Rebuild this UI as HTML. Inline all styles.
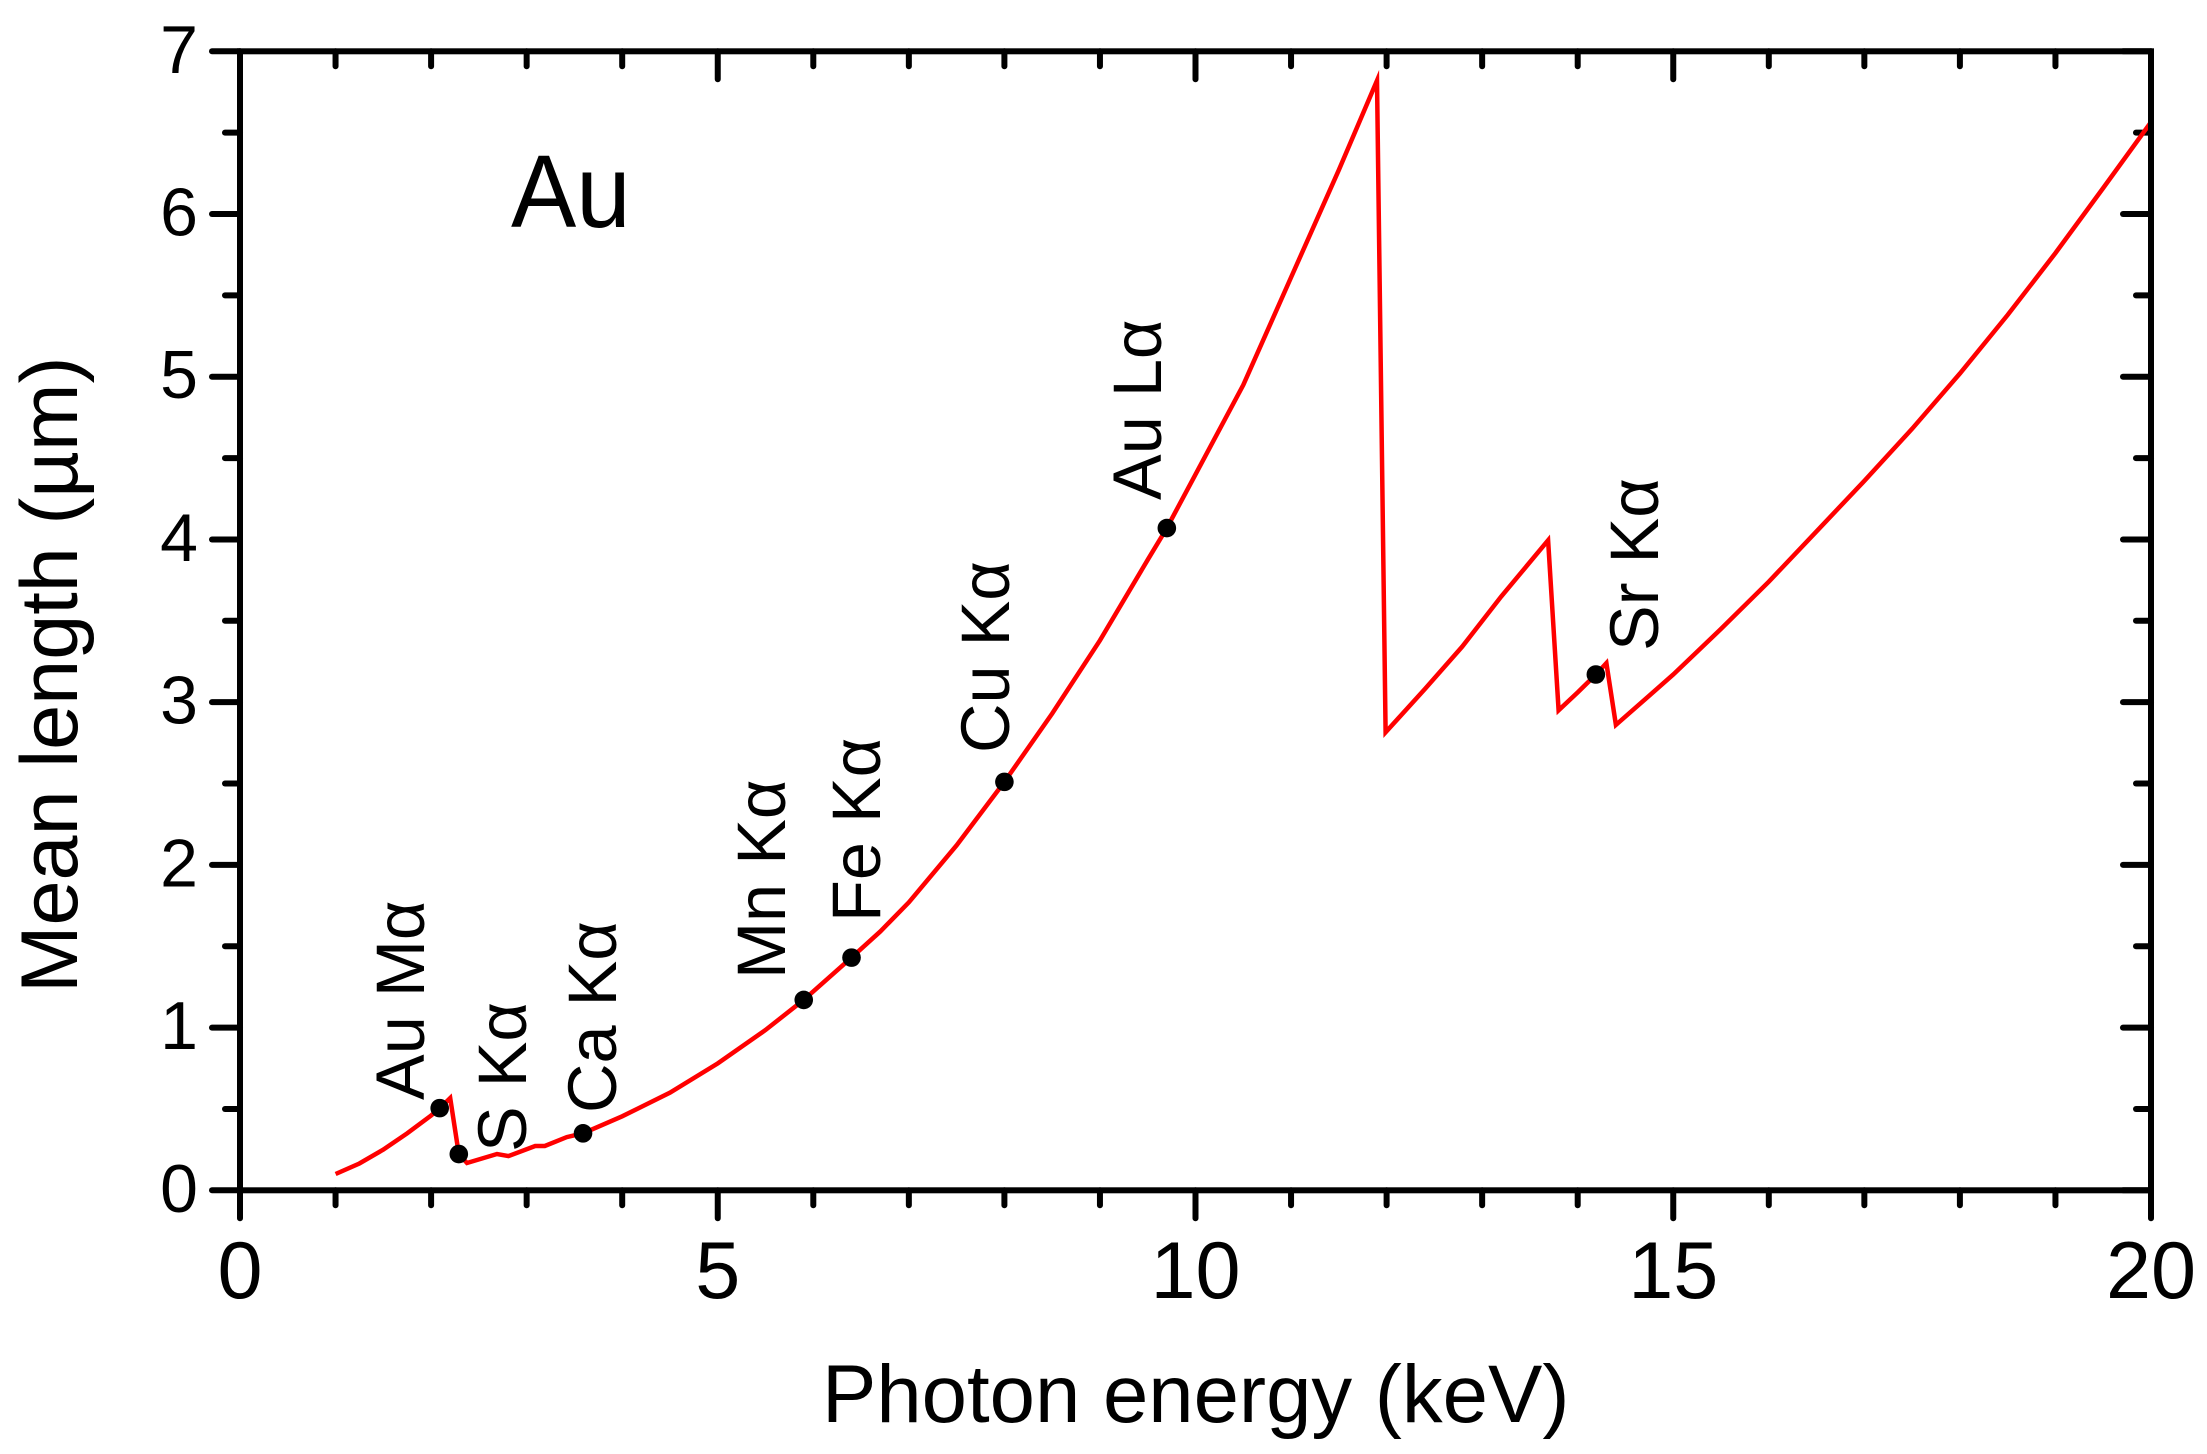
<!DOCTYPE html>
<html lang="en">
<head>
<meta charset="utf-8">
<title>Mean length vs photon energy for Au</title>
<style>
html,body{margin:0;padding:0;background:#fff;}
svg{display:block;font-family:"Liberation Sans",sans-serif;fill:#000;}
</style>
</head>
<body>
<svg id="chart" xmlns="http://www.w3.org/2000/svg" width="2207" height="1454" viewBox="0 0 2207 1454">
  <g id="ticks"></g>
  <g id="tick-labels"></g>
  <polyline id="curve" fill="none" stroke="#ff0000" stroke-width="4.5" stroke-linejoin="miter" stroke-miterlimit="10"></polyline>
  <g id="markers"></g>
  <rect id="frame" fill="none" stroke="#000" stroke-width="6"></rect>
  <text font-size="81" transform="translate(77 993) rotate(-90)">Mean length (µm)</text>
  <text font-size="81.5" x="822" y="1422">Photon energy (keV)</text>
  <text font-size="103" transform="translate(511 227) scale(0.95 1)">Au</text>
  <g font-size="68.5">
    <text transform="translate(424 1100) rotate(-90)">Au Mα</text>
    <text transform="translate(526 1152) rotate(-90)">S Kα</text>
    <text transform="translate(616 1113) rotate(-90)">Ca Kα</text>
    <text transform="translate(785 979) rotate(-90)">Mn Kα</text>
    <text transform="translate(880 922) rotate(-90)">Fe Kα</text>
    <text transform="translate(1009 753) rotate(-90)">Cu Kα</text>
    <text transform="translate(1161 500) rotate(-90)">Au Lα</text>
    <text transform="translate(1658 651) rotate(-90)">Sr Kα</text>
  </g>
</svg>
<script>
const energies = [1.0,1.25,1.5,1.75,2.0,2.1,2.2,2.29,2.376,2.69,2.81,3.09,3.19,3.42,3.59,4.0,4.5,5.0,5.5,5.9,6.4,6.7,7.0,7.5,8.0,8.5,9.0,9.5,9.7,10.0,10.5,11.0,11.5,11.9,11.99,12.4,12.79,13.2,13.69,13.8,14.0,14.19,14.3,14.4,15.0,15.5,16.0,16.5,17.0,17.5,18.0,18.5,19.0,19.5,20.0];
const lengths = [0.10,0.165,0.25,0.35,0.46,0.51,0.567,0.223,0.168,0.223,0.21,0.272,0.272,0.327,0.35,0.455,0.60,0.78,0.985,1.17,1.43,1.59,1.77,2.12,2.51,2.93,3.38,3.875,4.07,4.40,4.95,5.61,6.27,6.82,2.815,3.08,3.34,3.65,3.995,2.95,3.06,3.17,3.24,2.86,3.17,3.45,3.74,4.05,4.36,4.68,5.02,5.38,5.76,6.16,6.565];
const markerNames = ["au-m-alpha","s-k-alpha","ca-k-alpha","mn-k-alpha","fe-k-alpha","cu-k-alpha","au-l-alpha","sr-k-alpha"];
const markerEnergies = [2.09,2.29,3.59,5.9,6.4,8.0,9.7,14.19];
const markerLengths = [0.505,0.223,0.35,1.17,1.43,2.51,4.07,3.17];
const xMajorTicks = [0,5,10,15,20];
const xMinorTicks = [1,2,3,4,6,7,8,9,11,12,13,14,16,17,18,19];
const yMajorTicks = [0,1,2,3,4,5,6,7];
const yMinorTicks = [0.5,1.5,2.5,3.5,4.5,5.5,6.5];

const NS = "http://www.w3.org/2000/svg";
const plotLeft = 240, plotRight = 2151, plotTop = 51.3, plotBottom = 1190.3;
const xDomainMax = 20, yDomainMax = 7;
const majorLen = 28, minorLen = 15;
function xScale(v){ return plotLeft + (plotRight - plotLeft) * v / xDomainMax; }
function yScale(v){ return plotBottom - (plotBottom - plotTop) * v / yDomainMax; }

const frame = document.getElementById("frame");
frame.setAttribute("x", plotLeft);
frame.setAttribute("y", plotTop);
frame.setAttribute("width", plotRight - plotLeft);
frame.setAttribute("height", plotBottom - plotTop);

const tickGroup = document.getElementById("ticks");
function tickLine(x1, y1, x2, y2, name){
  const el = document.createElementNS(NS, "line");
  el.setAttribute("x1", x1);
  el.setAttribute("y1", y1);
  el.setAttribute("x2", x2);
  el.setAttribute("y2", y2);
  el.setAttribute("stroke", "#000");
  el.setAttribute("stroke-width", "6");
  el.setAttribute("stroke-linecap", "round");
  
  
  tickGroup.appendChild(el);
}
xMajorTicks.forEach(function(v){
  tickLine(xScale(v), plotBottom, xScale(v), plotBottom + majorLen, "x-major-tick");
  tickLine(xScale(v), plotTop, xScale(v), plotTop + majorLen, "top-major-tick");
});
xMinorTicks.forEach(function(v){
  tickLine(xScale(v), plotBottom, xScale(v), plotBottom + minorLen, "x-minor-tick");
  tickLine(xScale(v), plotTop, xScale(v), plotTop + minorLen, "top-minor-tick");
});
yMajorTicks.forEach(function(v){
  tickLine(plotLeft, yScale(v), plotLeft - majorLen, yScale(v), "y-major-tick");
  tickLine(plotRight, yScale(v), plotRight - majorLen, yScale(v), "right-major-tick");
});
yMinorTicks.forEach(function(v){
  tickLine(plotLeft, yScale(v), plotLeft - minorLen, yScale(v), "y-minor-tick");
  tickLine(plotRight, yScale(v), plotRight - minorLen, yScale(v), "right-minor-tick");
});

const labelGroup = document.getElementById("tick-labels");
xMajorTicks.forEach(function(v){
  const t = document.createElementNS(NS, "text");
  t.setAttribute("x", xScale(v));
  t.setAttribute("y", 1298);
  t.setAttribute("font-size", "81");
  t.setAttribute("text-anchor", "middle");
  
  
  t.textContent = String(v);
  labelGroup.appendChild(t);
});
yMajorTicks.forEach(function(v){
  const t = document.createElementNS(NS, "text");
  t.setAttribute("x", 198);
  t.setAttribute("y", yScale(v) + 21.5);
  t.setAttribute("font-size", "68");
  t.setAttribute("text-anchor", "end");
  
  
  t.textContent = String(v);
  labelGroup.appendChild(t);
});

document.getElementById("curve").setAttribute("points", energies.map(function(e, i){
  return xScale(e).toFixed(1) + "," + yScale(lengths[i]).toFixed(1);
}).join(" "));

const markerGroup = document.getElementById("markers");
markerEnergies.forEach(function(e, i){
  const c = document.createElementNS(NS, "circle");
  c.setAttribute("cx", xScale(e));
  c.setAttribute("cy", yScale(markerLengths[i]));
  c.setAttribute("r", "9.3");
  c.setAttribute("fill", "#000");
  
  
  markerGroup.appendChild(c);
});
</script>
</body>
</html>
